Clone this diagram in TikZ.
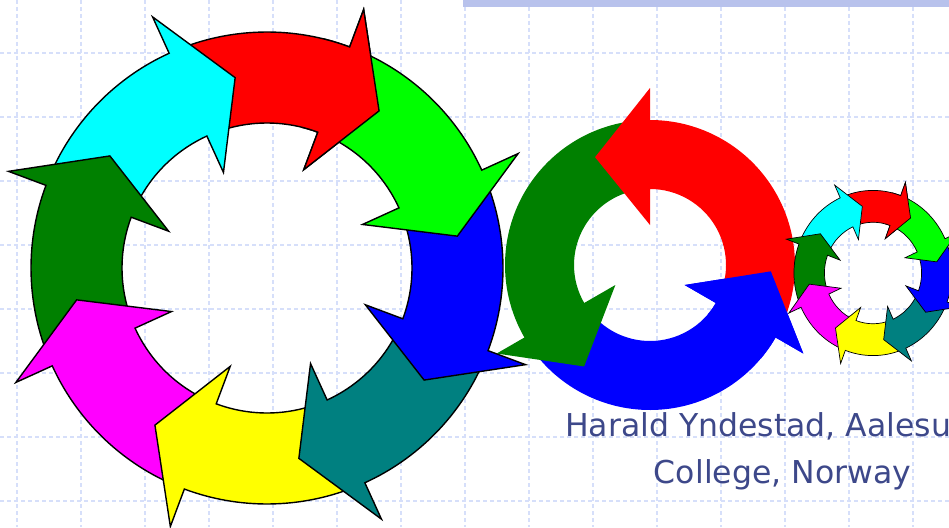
\documentclass[tikz,border=0pt]{standalone}
\usepackage{fontspec}
\setmainfont{DejaVu Sans}

\definecolor{gridblue}{RGB}{214,223,250}
\definecolor{barblue}{RGB}{184,194,236}
\definecolor{textblue}{RGB}{61,72,138}
\definecolor{arrowred}{RGB}{255,0,0}
\definecolor{arrowblue}{RGB}{0,0,255}
\definecolor{arrowcyan}{RGB}{0,255,255}
\definecolor{arrowmagenta}{RGB}{255,0,255}
\definecolor{arrowyellow}{RGB}{255,255,0}
\definecolor{arrowlime}{RGB}{0,255,0}
\definecolor{arrowgreen}{RGB}{0,128,0}
\definecolor{arrowteal}{RGB}{0,128,128}

% one curved block arrow: style, tail angle, head base angle, tip angle
\newcommand{\arcarrow}[4]{%
  \path[#1] (#2:\rout) arc[start angle=#2, end angle=#3, radius=\rout]
    -- (#3:\bout) -- (#4:\rtip) -- (#3:\bin) -- (#3:\rin)
    arc[start angle=#3, end angle=#2, radius=\rin] -- cycle;}

% ring of eight clockwise arrows
\newcommand{\eightring}[1]{%
  \def\rin{145}\def\rout{236}\def\bin{105}\def\bout{276}\def\rtip{193}
  \foreach \k/\c in {7/arrowred,6/arrowcyan,5/arrowgreen,4/arrowmagenta,3/arrowyellow,2/arrowteal,1/arrowblue,0/arrowlime} {
    \pgfmathsetmacro\hbase{24.5-45*\k}
    \pgfmathsetmacro\htail{\hbase+42}
    \pgfmathsetmacro\htip{\hbase-15}
    \arcarrow{#1, fill=\c}{\htail}{\hbase}{\htip}
  }
  \begin{scope}
    \clip (0,0) -- (48:300) arc[start angle=48, end angle=76, radius=300] -- cycle;
    \arcarrow{#1, fill=arrowred}{111.5}{69.5}{54.5}
  \end{scope}}

\begin{document}
\begin{tikzpicture}[x=1pt,y=1pt,
gridline/.style={gridblue,line width=1.5pt,dash pattern=on 4pt off 3pt},
ringarrow/.style={draw=black,line width=1.4pt},
smallarrow/.style={draw=black,line width=0.7pt},
flatarrow/.style={draw=none},
author/.style={textblue,inner sep=0pt,font=\fontsize{31.5}{47}\selectfont}]
\useasboundingbox (0,0) rectangle (949,-527);
\clip (0,0) rectangle (949,-527);
\fill[white] (0,0) rectangle (949,-527);

\foreach \i in {0,...,14}
  \draw[gridline] (17+64*\i,0) -- (17+64*\i,-527);
\foreach \j in {0,...,7}
  \draw[gridline] (0,-53-64*\j) -- (949,-53-64*\j);

\fill[barblue] (463,0) rectangle (949,-7);

% middle ring, three arrows
\begin{scope}[shift={(650,-265)}]
  \def\rin{76}\def\rout{145}\def\bin{40}\def\bout{177}\def\rtip{121}
  \foreach \k/\c in {2/arrowblue,1/arrowgreen,0/arrowred} {
    \pgfmathsetmacro\hbase{90+120*\k}
    \pgfmathsetmacro\htail{\hbase-114}
    \pgfmathsetmacro\htip{\hbase+27}
    \arcarrow{flatarrow, fill=\c}{\htail}{\hbase}{\htip}
  }
  \begin{scope}
    \clip (0,0) -- (320:260) arc[start angle=320, end angle=366, radius=260] -- cycle;
    \arcarrow{flatarrow, fill=arrowblue}{216}{330}{357}
  \end{scope}
\end{scope}

\begin{scope}[shift={(267,-268)}]
  \eightring{ringarrow}
\end{scope}

\begin{scope}[shift={(873,-273)},xscale=0.335,yscale=0.35]
  \eightring{smallarrow}
\end{scope}

\node (author1) [author,anchor=base west] at (565,-436) {Harald Yndestad, Aalesu};
\node (author2) [author,anchor=base] at (782.5,-483) {College, Norway};
\end{tikzpicture}
\end{document}
